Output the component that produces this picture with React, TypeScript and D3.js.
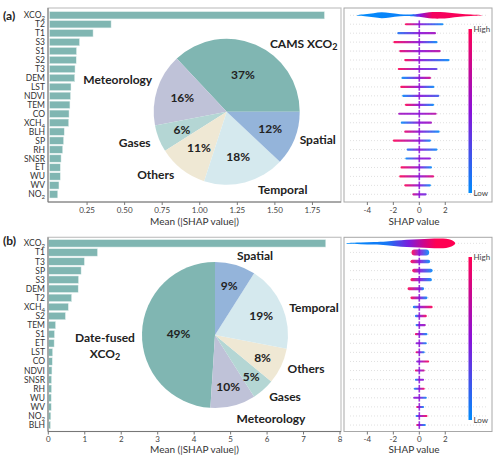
import React from 'react';
import * as d3 from 'd3';

// ---- data ----
const featuresA = ['XCO_2', 'T2', 'T1', 'S3', 'S1', 'S2', 'T3', 'DEM', 'LST', 'NDVI', 'TEM', 'CO', 'XCH_4', 'BLH', 'SP', 'RH', 'SNSR', 'ET', 'WU', 'WV', 'NO_2'];
const importanceA = [1.83, 0.41, 0.29, 0.2, 0.18, 0.178, 0.17, 0.168, 0.143, 0.14, 0.136, 0.13, 0.128, 0.098, 0.094, 0.088, 0.077, 0.072, 0.072, 0.063, 0.055];

const featuresB = ['XCO_2', 'T1', 'T3', 'SP', 'S3', 'DEM', 'T2', 'XCH_4', 'S2', 'TEM', 'S1', 'ET', 'LST', 'CO', 'NDVI', 'SNSR', 'RH', 'WU', 'WV', 'NO_2', 'BLH'];
const importanceB = [7.61, 1.35, 0.99, 0.9, 0.83, 0.82, 0.64, 0.55, 0.47, 0.2, 0.17, 0.16, 0.12, 0.11, 0.1, 0.09, 0.09, 0.08, 0.08, 0.07, 0.06];

const groupsA = ['CAMS XCO_2', 'Meteorology', 'Gases', 'Others', 'Temporal', 'Spatial'];
const sharesA = [37, 16, 6, 11, 18, 12];
const groupsB = ['Date-fused|XCO_2', 'Meteorology', 'Gases', 'Others', 'Temporal', 'Spatial'];
const sharesB = [49, 10, 5, 8, 19, 9];
const groupColours = ['#80b6b2', '#bfc2d8', '#b4d6d4', '#efe8d4', '#d5e9ee', '#94b4da'];

const barTicksA = [0.25, 0.5, 0.75, 1.0, 1.25, 1.5, 1.75];
const barTicksB = [0, 1, 2, 3, 4, 5, 6, 7, 8];
const shapTicks = [-4, -2, 0, 2];

// top feature of each beeswarm: [shap value, half height px] and [shap value, feature value 0..1]
const topProfileA = [[-4.8, 0.3], [-4.2, 0.8], [-3.5, 2], [-2.9, 3.4], [-2.3, 2.2], [-1.5, 0.9], [-0.6, 0.7], [0, 1.4], [0.5, 2.6], [1.0, 3.3], [1.6, 3.5], [2.3, 2.7], [3.1, 1.4], [4.0, 0.6], [4.8, 0.2]];
const topColoursA = [[-4.8, 0], [-0.6, 0.05], [0.1, 0.5], [1.0, 0.95], [4.8, 1]];
const topProfileB = [[-5.6, 0.4], [-4.5, 0.8], [-3.5, 1.2], [-2.5, 1.8], [-1.8, 2.8], [-1, 3.8], [0, 4.2], [0.8, 4.6], [1.5, 5], [2.1, 4.8], [2.5, 3.5], [2.75, 0.8]];
const topColoursB = [[-5.6, 0], [-2.5, 0.08], [-0.8, 0.45], [0.4, 0.8], [1.3, 1], [2.75, 1]];

// other rows: [min shap, max shap, feature value at min, feature value at max, half height px]
const swarmA = [
    [-1.11, 1.86, 1, 0, 1.1], [-1.7, 1.29, 0.1, 0.6, 1.1], [-2.0, 1.4, 1, 0, 1.1], [-1.55, 1.65, 0.9, 0.7, 1.1],
    [-1.16, 2.33, 1, 0, 1.1], [-1.66, 1.4, 1, 0.3, 1.1], [-1.37, 0.9, 0, 0.8, 1.1], [-1.47, 1.16, 1, 0, 1.1],
    [-1.32, 1.55, 0, 0.2, 1.1], [-1.11, 1.14, 1, 0, 1.1], [-1.63, 1.34, 0.6, 0.7, 1.1], [-1.43, 0.98, 0, 0.6, 1.1],
    [-1.16, 1.57, 0.9, 0, 1.1], [-2.04, 0.9, 1, 0, 1.1], [-0.98, 1.4, 0.1, 0, 1.1], [-1.08, 0.9, 0, 0.5, 1.1],
    [-1.45, 0.98, 1, 0, 1.1], [-1.55, 1.14, 1, 0.9, 1.1], [-1.16, 0.9, 1, 0, 1.1], [-0.54, 0.57, 0.8, 0.4, 1.1],
];
const swarmB = [
    [-0.6, 0.76, 1, 0, 3], [-0.68, 0.84, 1, 0, 1.8], [-0.55, 1.03, 1, 0, 1.8], [-0.68, 0.97, 1, 0, 1.6],
    [-0.9, 0.37, 1, 0, 1.4], [-0.68, 0.63, 1, 0, 1.3], [-0.5, 1.03, 0, 1, 1.3], [-0.34, 0.58, 0, 1, 1.2],
    [-0.29, 0.5, 0, 0.6, 1.1], [-0.34, 0.63, 1, 0, 1.1], [-0.29, 0.58, 0.5, 0, 1], [-0.29, 0.42, 1, 0, 1],
    [-0.24, 0.76, 0.5, 1, 1], [-0.34, 0.42, 1, 0.8, 1], [-0.34, 0.37, 0, 0.5, 1], [-0.42, 0.42, 0, 1, 1],
    [-0.47, 0.58, 0.5, 0, 1], [-0.24, 0.37, 1, 0, 1], [-0.29, 0.63, 0, 1, 1], [-0.24, 0.5, 1, 0, 1],
];

const FONT = "Lato, 'Open Sans', sans-serif";
const shapColour = d3.piecewise(d3.interpolateRgb, ['#008bfb', '#8a10d8', '#ff0052']);

const BAR_X = [48, 341];
const SWARM_X = [344, 492];

const layoutA = {
    top: 8, bottom: 202, rows: [10.8, 198.8], tagY: 15, barRange: BAR_X,
    pie: { cx: 226.7, cy: 111.7, r: 73 },
    pctDist: [0.56, 0.64, 0.66, 0.62, 0.63, 0.64],
    labelOff: [[77, -68], [-109, -32], [-92, 31], [-71, 63], [56, 78], [91, 28]],
    cbar: [29, 193], tickY: 209.5, titleY: 221,
};
const layoutB = {
    top: 237.3, bottom: 431.5, rows: [238.8, 429.6], tagY: 240, barRange: [48.3, 340],
    pie: { cx: 215, cy: 335, r: 73 },
    pctDist: [0.5, 0.73, 0.75, 0.72, 0.69, 0.7],
    labelOff: [[-110, 2], [56, 83], [70, 61], [91, 33], [99, -28], [40, -80]],
    cbar: [257, 420], tickY: 438.5, titleY: 449,
};

const withSub = (text: string, subSize = '72%') => {
    const [main, sub] = text.split('_');
    return (
        <>
            {main}
            {sub && <tspan dy="0.3em" fontSize={subSize}>{sub}</tspan>}
        </>
    );
};

const Panel = ({ id, tag, features, importance, barDomain, barTicks, tickFmt, groups, shares, startDeg,
    topProfile, topColours, swarm, L }: any) => {
    const x = d3.scaleLinear().domain(barDomain).range(L.barRange);
    const y = d3.scaleBand<string>().domain(features).range(L.rows).paddingInner(0.18).paddingOuter(0.09);
    const xs = d3.scaleLinear().domain([-5.8, 5.6]).range(SWARM_X);
    const rowY = (f: string) => (y(f) as number) + y.bandwidth() / 2;

    // pie, counter-clockwise from startDeg like matplotlib
    const s0 = Math.PI / 2 - (startDeg * Math.PI) / 180;
    const pie = d3.pie<number>().sort(null).value(d => d).startAngle(s0).endAngle(s0 - 2 * Math.PI);
    const arcs = pie(shares);
    const { cx, cy, r } = L.pie;
    const arc = d3.arc<d3.PieArcDatum<number>>().innerRadius(0).outerRadius(r);

    // top feature violin
    const topRow = rowY(features[0]);
    const violin = d3.area<number[]>()
        .x(d => xs(d[0]))
        .y0(d => topRow - d[1])
        .y1(d => topRow + d[1])
        .curve(d3.curveBasis);
    const tMin = topProfile[0][0];
    const tMax = topProfile[topProfile.length - 1][0];

    const cb = d3.scaleLinear().domain([0, 1]).range([L.cbar[1], L.cbar[0]]);

    return (
        <g>
            <defs>
                <linearGradient id={`${id}-top`} gradientUnits="userSpaceOnUse" x1={xs(tMin)} x2={xs(tMax)} y1={0} y2={0}>
                    {topColours.map((c: number[], i: number) => (
                        <stop key={i} offset={(c[0] - tMin) / (tMax - tMin)} stopColor={shapColour(c[1])} />
                    ))}
                </linearGradient>
                {swarm.map((s: number[], i: number) => (
                    <linearGradient key={i} id={`${id}-row-${i}`} gradientUnits="userSpaceOnUse" x1={xs(s[0])} x2={xs(s[1])} y1={0} y2={0}>
                        <stop offset={0} stopColor={shapColour(s[2])} />
                        <stop offset={(0 - s[0]) / (s[1] - s[0])} stopColor={shapColour(0.5)} />
                        <stop offset={1} stopColor={shapColour(s[3])} />
                    </linearGradient>
                ))}
                <linearGradient id={`${id}-cbar`} x1={0} y1={1} x2={0} y2={0}>
                    {d3.range(0, 1.001, 0.1).map(t => (
                        <stop key={t} offset={t} stopColor={shapColour(t)} />
                    ))}
                </linearGradient>
            </defs>

            <text x={3} y={L.tagY} dominantBaseline="central" fontSize={12} fontWeight="bold" fill="#222">{tag}</text>

            {/* bar panel */}
            <rect x={BAR_X[0]} y={L.top} width={BAR_X[1] - BAR_X[0]} height={L.bottom - L.top} fill="white" stroke="#c4c4c4" strokeWidth={1.2} />
            {features.map((f: string, i: number) => (
                <g key={f}>
                    <rect x={x(0)} y={y(f)} width={x(importance[i]) - x(0)} height={y.bandwidth()}
                        fill="#80b6b2" stroke="#e6f1f0" strokeWidth={0.5} />
                    <text x={45} y={rowY(f)} textAnchor="end" dominantBaseline="central" fontSize={8.5} fill="#333">
                        {withSub(f)}
                    </text>
                </g>
            ))}
            <line x1={BAR_X[0]} x2={BAR_X[0]} y1={L.top} y2={L.bottom} stroke="#777" />
            <line x1={BAR_X[0]} x2={BAR_X[1]} y1={L.bottom} y2={L.bottom} stroke="#777" />
            {barTicks.map((t: number) => (
                <g key={t}>
                    <line x1={x(t)} x2={x(t)} y1={L.bottom} y2={L.bottom + 3} stroke="#777" />
                    <text x={x(t)} y={L.tickY} textAnchor="middle" dominantBaseline="central" fontSize={8} fill="#444">{tickFmt(t)}</text>
                </g>
            ))}
            <text x={(BAR_X[0] + BAR_X[1]) / 2} y={L.titleY} textAnchor="middle" dominantBaseline="central" fontSize={10} fill="#333">
                Mean (|SHAP value|)
            </text>

            {/* pie of grouped importance */}
            <g transform={`translate(${cx},${cy})`}>
                {arcs.map((a, i) => (
                    <path key={i} d={arc(a) as string} fill={groupColours[i]} />
                ))}
                {arcs.map((a, i) => {
                    const pr = r * L.pctDist[i];
                    const [px, py] = d3.arc<d3.PieArcDatum<number>>().innerRadius(pr).outerRadius(pr).centroid(a);
                    return (
                        <text key={i} x={px} y={py} textAnchor="middle" dominantBaseline="central" fontSize={12} fontWeight="bold" fill="#222">
                            {shares[i]}%
                        </text>
                    );
                })}
                {groups.map((g: string, i: number) => {
                    const lines = g.split('|');
                    const [dx, dy] = L.labelOff[i];
                    return lines.map((ln, j) => (
                        <text key={`${i}-${j}`} x={dx} y={dy + (j - (lines.length - 1) / 2) * 16 + (lines.length > 1 ? 8 : 0)}
                            textAnchor="middle" dominantBaseline="central" fontSize={12} fontWeight="bold" fill="#222">
                            {withSub(ln, '75%')}
                        </text>
                    ));
                })}
            </g>

            {/* beeswarm summary */}
            <rect x={SWARM_X[0]} y={L.top} width={SWARM_X[1] - SWARM_X[0]} height={L.bottom - L.top} fill="white" stroke="#a8a8a8" />
            {features.map((f: string) => (
                <line key={f} x1={SWARM_X[0] + 6} x2={SWARM_X[1] - 6} y1={rowY(f)} y2={rowY(f)} stroke="#d8d8d8" strokeWidth={0.8} strokeDasharray="1,2" />
            ))}
            <path d={violin(topProfile) as string} fill={`url(#${id}-top)`} />
            {swarm.map((s: number[], i: number) => {
                const ry = rowY(features[i + 1]);
                return (
                    <g key={i}>
                        <rect x={xs(s[0])} y={ry - s[4]} width={xs(s[1]) - xs(s[0])} height={2 * s[4]} rx={s[4]}
                            fill={`url(#${id}-row-${i})`} opacity={0.9} />
                        <line x1={xs(0)} x2={xs(0)} y1={ry - 3.8} y2={ry + 3.8} stroke={shapColour(0.5)} strokeWidth={1.6} opacity={0.85} />
                    </g>
                );
            })}
            {shapTicks.map(t => (
                <g key={t}>
                    <line x1={xs(t)} x2={xs(t)} y1={L.bottom} y2={L.bottom + 3} stroke="#777" />
                    <text x={xs(t)} y={L.tickY} textAnchor="middle" dominantBaseline="central" fontSize={8} fill="#444">{t}</text>
                </g>
            ))}
            <text x={(SWARM_X[0] + SWARM_X[1]) / 2 - 4} y={L.titleY} textAnchor="middle" dominantBaseline="central" fontSize={10} fill="#333">
                SHAP value
            </text>
            <rect x={468.5} y={cb(1)} width={3.5} height={cb(0) - cb(1)} fill={`url(#${id}-cbar)`} />
            <text x={473.5} y={cb(1)} dominantBaseline="central" fontSize={8} fill="#444">High</text>
            <text x={473.5} y={cb(0)} dominantBaseline="central" fontSize={8} fill="#444">Low</text>
        </g>
    );
};

const App: React.FC = () => (
    <svg width={500} height={460} style={{ position: 'absolute', left: 0, top: 0, background: 'white' }} fontFamily={FONT}>
        <Panel id="a" tag="(a)" features={featuresA} importance={importanceA} barDomain={[-0.01, 1.94]}
            barTicks={barTicksA} tickFmt={d3.format('.2f')} groups={groupsA} shares={sharesA} startDeg={0}
            topProfile={topProfileA} topColours={topColoursA} swarm={swarmA} L={layoutA} />
        <Panel id="b" tag="(b)" features={featuresB} importance={importanceB} barDomain={[0, 8]}
            barTicks={barTicksB} tickFmt={d3.format('d')} groups={groupsB} shares={sharesB} startDeg={90}
            topProfile={topProfileB} topColours={topColoursB} swarm={swarmB} L={layoutB} />
    </svg>
);

export default App;
